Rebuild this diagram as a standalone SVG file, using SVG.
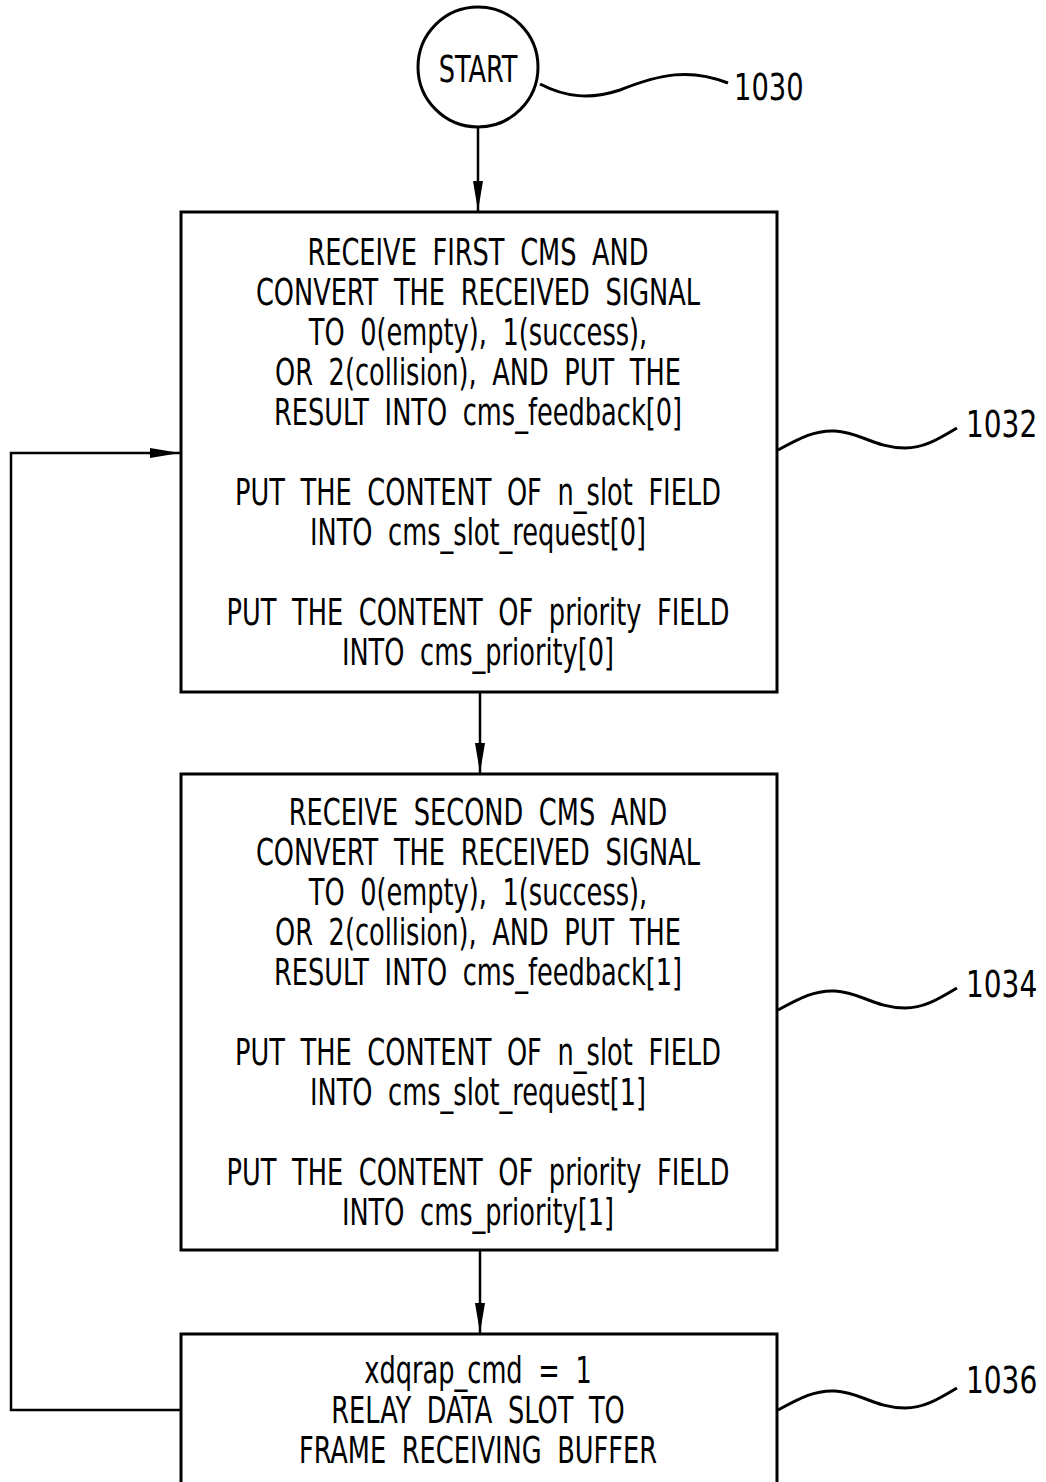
<svg xmlns="http://www.w3.org/2000/svg" width="1046" height="1482" viewBox="0 0 1046 1482">
<defs>
<marker id="ahl" viewBox="0 0 30 12" refX="30" refY="6" markerWidth="30" markerHeight="12" markerUnits="userSpaceOnUse" orient="auto">
<path d="M0,1 L30,6 L0,11 Z" fill="#000"/>
</marker>
</defs>
<style>
.box{fill:#fff;stroke:#000;stroke-width:3}
.ln{fill:none;stroke:#000;stroke-width:2.5}
.wv{fill:none;stroke:#000;stroke-width:3}
.t{font-family:"DejaVu Sans Condensed","DejaVu Sans",sans-serif;font-size:38px;text-anchor:middle;fill:#000;word-spacing:10px}
.lbl{font-family:"DejaVu Sans Condensed","DejaVu Sans",sans-serif;font-size:38px;fill:#000}
</style>
<rect width="1046" height="1482" fill="#fff"/>
<g id="connectors">
<line class="ln" x1="478" y1="128" x2="478" y2="211" marker-end="url(#ahl)"/>
<line class="ln" x1="480" y1="692" x2="480" y2="773" marker-end="url(#ahl)"/>
<line class="ln" x1="480" y1="1250" x2="480" y2="1333" marker-end="url(#ahl)"/>
<polyline class="ln" points="181,1410 11,1410 11,453 180,453" marker-end="url(#ahl)"/>
</g>
<g id="start">
<circle cx="478" cy="67" r="60" fill="#fff" stroke="#000" stroke-width="3"/>
<g transform="scale(0.75,1)"><text class="t" x="637.33" y="82">START</text></g>
</g>
<g id="ref1030">
<path class="wv" d="M540,84 C565,97 590,100 620,90 C660,74 690,68 728,83"/>
<g transform="scale(0.8,1)"><text class="lbl" x="917.5" y="100">1030</text></g>
</g>
<g id="box1032">
<rect class="box" x="181" y="212" width="596" height="480"/>
<g transform="scale(0.75,1)">
<text class="t" x="637.33" y="265">RECEIVE FIRST CMS AND</text>
<text class="t" x="637.33" y="305">CONVERT THE RECEIVED SIGNAL</text>
<text class="t" x="637.33" y="345">TO 0(empty), 1(success),</text>
<text class="t" x="637.33" y="385">OR 2(collision), AND PUT THE</text>
<text class="t" x="637.33" y="425">RESULT INTO cms_feedback[0]</text>
<text class="t" x="637.33" y="505">PUT THE CONTENT OF n_slot FIELD</text>
<text class="t" x="637.33" y="545">INTO cms_slot_request[0]</text>
<text class="t" x="637.33" y="625">PUT THE CONTENT OF priority FIELD</text>
<text class="t" x="637.33" y="665">INTO cms_priority[0]</text>
</g>
</g>
<g id="ref1032">
<path class="wv" d="M778,450 C800,438 815,430 835,431 C860,432 875,448 905,448 C925,448 940,438 957,428"/>
<g transform="scale(0.82,1)"><text class="lbl" x="1178" y="437">1032</text></g>
</g>
<g id="box1034">
<rect class="box" x="181" y="774" width="596" height="476"/>
<g transform="scale(0.75,1)">
<text class="t" x="637.33" y="825">RECEIVE SECOND CMS AND</text>
<text class="t" x="637.33" y="865">CONVERT THE RECEIVED SIGNAL</text>
<text class="t" x="637.33" y="905">TO 0(empty), 1(success),</text>
<text class="t" x="637.33" y="945">OR 2(collision), AND PUT THE</text>
<text class="t" x="637.33" y="985">RESULT INTO cms_feedback[1]</text>
<text class="t" x="637.33" y="1065">PUT THE CONTENT OF n_slot FIELD</text>
<text class="t" x="637.33" y="1105">INTO cms_slot_request[1]</text>
<text class="t" x="637.33" y="1185">PUT THE CONTENT OF priority FIELD</text>
<text class="t" x="637.33" y="1225">INTO cms_priority[1]</text>
</g>
</g>
<g id="ref1034">
<path class="wv" d="M778,1010 C800,998 815,990 835,991 C860,992 875,1008 905,1008 C925,1008 940,998 957,988"/>
<g transform="scale(0.82,1)"><text class="lbl" x="1178" y="997">1034</text></g>
</g>
<g id="box1036">
<rect class="box" x="181" y="1334" width="596" height="170"/>
<g transform="scale(0.75,1)">
<text class="t" x="637.33" y="1383">xdqrap_cmd = 1</text>
<text class="t" x="637.33" y="1423">RELAY DATA SLOT TO</text>
<text class="t" x="637.33" y="1463">FRAME RECEIVING BUFFER</text>
</g>
</g>
<g id="ref1036">
<path class="wv" d="M778,1410 C800,1398 815,1390 835,1391 C860,1392 875,1408 905,1408 C925,1408 940,1398 957,1388"/>
<g transform="scale(0.82,1)"><text class="lbl" x="1178" y="1393">1036</text></g>
</g>
</svg>
